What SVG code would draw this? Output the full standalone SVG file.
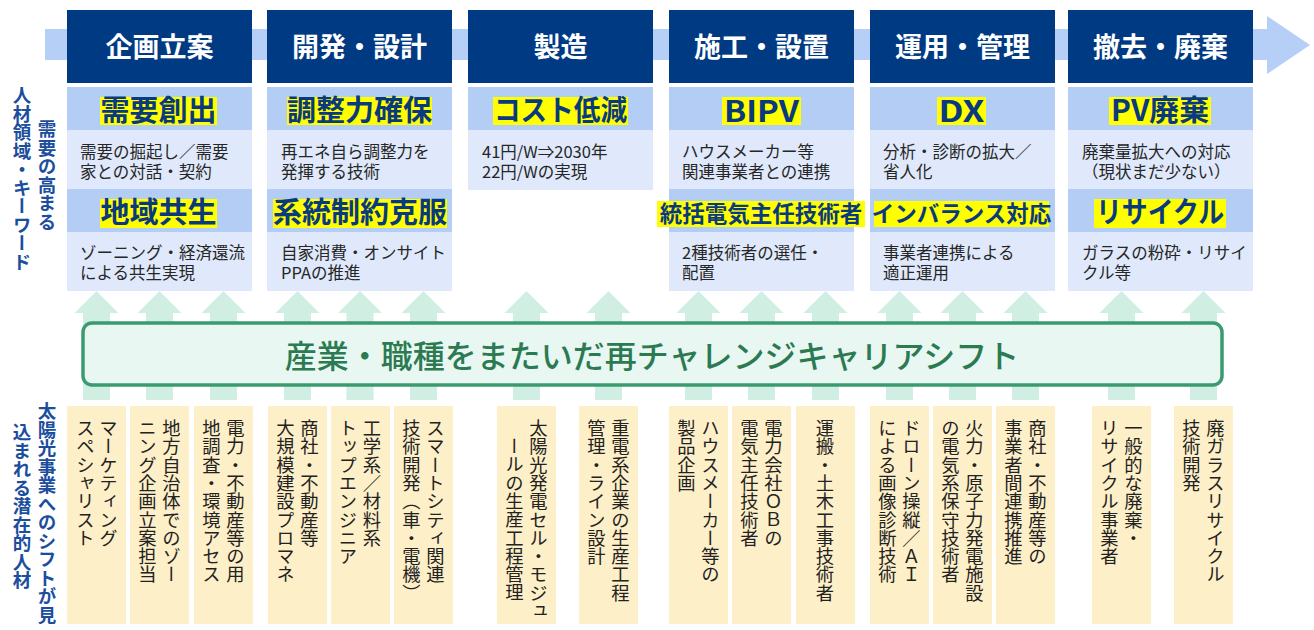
<svg xmlns="http://www.w3.org/2000/svg" xmlns:xlink="http://www.w3.org/1999/xlink" width="1314" height="630" viewBox="0 0 1314 630">
<style>
  text { font-family: "Noto Sans CJK JP", "Noto Sans", sans-serif; }
  .hdr { fill: #003a82; }
  .hdrt { fill: #ffffff; font-size: 27px; font-weight: bold; text-anchor: middle; }
  .kwbg { fill: #b4cdf5; }
  .dsbg { fill: #dfe9fb; }
  .hl { fill: #ffff00; }
  .kw { fill: #0a3a7e; font-size: 29px; font-weight: bold; text-anchor: middle; }
  .kws { fill: #0a3a7e; font-size: 22.5px; font-weight: bold; text-anchor: middle; }
  .ds { fill: #262626; font-size: 16.5px; }
  .up { fill: #d0efe2; }
  .tan { fill: #fdefc8; }
  .vt { fill: #222222; font-size: 18.3px; writing-mode: vertical-rl; }
  .side { fill: #1c4e9e; font-size: 18.5px; font-weight: bold; writing-mode: vertical-rl; }
</style>
<defs>
  <path id="uparrow" d="M-13.5,400 V313 H-22 L0,291 L22,313 H13.5 V400 Z"/>
</defs>

<g id="flow-arrow">
  <path d="M45,29 H1267 V16 L1310,45 L1267,74 V60 H45 Z" fill="#b6cff6"/>
</g>

<g id="side-labels">
  <text class="side" x="47" y="120">需要の高まる</text>
  <text class="side" x="22" y="86">人材領域・キーワード</text>
  <text class="side" x="47" y="402">太陽光事業へのシフトが見</text>
  <text class="side" x="22" y="423">込まれる潜在的人材</text>
</g>

<g id="connectors">
  <use xlink:href="#uparrow" class="up" x="96.5"/>
  <use xlink:href="#uparrow" class="up" x="159.5"/>
  <use xlink:href="#uparrow" class="up" x="223.5"/>
  <use xlink:href="#uparrow" class="up" x="297.5"/>
  <use xlink:href="#uparrow" class="up" x="360"/>
  <use xlink:href="#uparrow" class="up" x="423.5"/>
  <use xlink:href="#uparrow" class="up" x="526.5"/>
  <use xlink:href="#uparrow" class="up" x="608.5"/>
  <use xlink:href="#uparrow" class="up" x="698.5"/>
  <use xlink:href="#uparrow" class="up" x="761.5"/>
  <use xlink:href="#uparrow" class="up" x="825.5"/>
  <use xlink:href="#uparrow" class="up" x="899.5"/>
  <use xlink:href="#uparrow" class="up" x="962.5"/>
  <use xlink:href="#uparrow" class="up" x="1025.5"/>
  <use xlink:href="#uparrow" class="up" x="1121.5"/>
  <use xlink:href="#uparrow" class="up" x="1203.5"/>
</g>

<g id="col-kikaku">
  <rect class="hdr" x="67" y="10" width="185" height="73"/>
  <text class="hdrt" x="159.5" y="57">企画立案</text>
  <rect class="kwbg" x="67" y="87" width="185" height="43"/>
  <rect class="hl" x="100" y="97" width="117" height="28"/>
  <text class="kw" x="158.5" y="121">需要創出</text>
  <rect class="dsbg" x="67" y="130" width="185" height="59"/>
  <text class="ds"><tspan x="80" y="158">需要の掘起し／需要</tspan><tspan x="80" dy="20">家との対話・契約</tspan></text>
  <rect class="kwbg" x="67" y="189" width="185" height="43"/>
  <rect class="hl" x="100" y="199" width="117" height="29"/>
  <text class="kw" x="158.5" y="223">地域共生</text>
  <rect class="dsbg" x="67" y="232" width="185" height="59"/>
  <text class="ds"><tspan x="80" y="259">ゾーニング・経済還流</tspan><tspan x="80" dy="20">による共生実現</tspan></text>
</g>

<g id="col-kaihatsu">
  <rect class="hdr" x="267" y="10" width="185" height="73"/>
  <text class="hdrt" x="359.5" y="57">開発・設計</text>
  <rect class="kwbg" x="267" y="87" width="185" height="43"/>
  <rect class="hl" x="287" y="97" width="145" height="28"/>
  <text class="kw" x="359.5" y="121">調整力確保</text>
  <rect class="dsbg" x="267" y="130" width="185" height="59"/>
  <text class="ds"><tspan x="281" y="158">再エネ自ら調整力を</tspan><tspan x="281" dy="20">発揮する技術</tspan></text>
  <rect class="kwbg" x="267" y="189" width="185" height="43"/>
  <rect class="hl" x="273" y="199" width="174" height="29"/>
  <text class="kw" x="360" y="223">系統制約克服</text>
  <rect class="dsbg" x="267" y="232" width="185" height="59"/>
  <text class="ds"><tspan x="281" y="259">自家消費・オンサイト</tspan><tspan x="281" dy="20">PPAの推進</tspan></text>
</g>

<g id="col-seizo">
  <rect class="hdr" x="468" y="10" width="185" height="73"/>
  <text class="hdrt" x="560.5" y="57">製造</text>
  <rect class="kwbg" x="468" y="87" width="185" height="43"/>
  <rect class="hl" x="493" y="97" width="135" height="28"/>
  <text class="kw" x="560.5" y="121" textLength="133" lengthAdjust="spacingAndGlyphs">コスト低減</text>
  <rect class="dsbg" x="468" y="130" width="185" height="60"/>
  <text class="ds"><tspan x="482" y="158">41円/W⇒2030年</tspan><tspan x="482" dy="20">22円/Wの実現</tspan></text>
</g>

<g id="col-seko">
  <rect class="hdr" x="669" y="10" width="185" height="73"/>
  <text class="hdrt" x="761.5" y="57">施工・設置</text>
  <rect class="kwbg" x="669" y="87" width="185" height="43"/>
  <rect class="hl" x="722" y="97" width="79" height="28"/>
  <text class="kw" x="761.5" y="122" textLength="75" lengthAdjust="spacingAndGlyphs">BIPV</text>
  <rect class="dsbg" x="669" y="130" width="185" height="59"/>
  <text class="ds"><tspan x="682" y="158">ハウスメーカー等</tspan><tspan x="682" dy="20">関連事業者との連携</tspan></text>
  <rect class="kwbg" x="669" y="189" width="185" height="43"/>
  <rect class="hl" x="657" y="201" width="208" height="26"/>
  <text class="kws" x="761" y="222">統括電気主任技術者</text>
  <rect class="dsbg" x="669" y="232" width="185" height="59"/>
  <text class="ds"><tspan x="682" y="259">2種技術者の選任・</tspan><tspan x="682" dy="20">配置</tspan></text>
</g>

<g id="col-unyo">
  <rect class="hdr" x="870" y="10" width="185" height="73"/>
  <text class="hdrt" x="962.5" y="57">運用・管理</text>
  <rect class="kwbg" x="870" y="87" width="185" height="43"/>
  <rect class="hl" x="937" y="97" width="49" height="28"/>
  <text class="kw" x="961.5" y="122" textLength="46" lengthAdjust="spacingAndGlyphs">DX</text>
  <rect class="dsbg" x="870" y="130" width="185" height="59"/>
  <text class="ds"><tspan x="883" y="158">分析・診断の拡大／</tspan><tspan x="883" dy="20">省人化</tspan></text>
  <rect class="kwbg" x="870" y="189" width="185" height="43"/>
  <rect class="hl" x="874" y="201" width="175" height="26"/>
  <text class="kws" x="961.5" y="222">インバランス対応</text>
  <rect class="dsbg" x="870" y="232" width="185" height="59"/>
  <text class="ds"><tspan x="883" y="259">事業者連携による</tspan><tspan x="883" dy="20">適正運用</tspan></text>
</g>

<g id="col-tekkyo">
  <rect class="hdr" x="1068" y="10" width="185" height="73"/>
  <text class="hdrt" x="1160.5" y="57">撤去・廃棄</text>
  <rect class="kwbg" x="1068" y="87" width="185" height="43"/>
  <rect class="hl" x="1109" y="97" width="102" height="28"/>
  <text class="kw" x="1160" y="121" textLength="98" lengthAdjust="spacingAndGlyphs">PV廃棄</text>
  <rect class="dsbg" x="1068" y="130" width="185" height="59"/>
  <text class="ds"><tspan x="1082" y="158">廃棄量拡大への対応</tspan><tspan x="1082" dy="20">（現状まだ少ない）</tspan></text>
  <rect class="kwbg" x="1068" y="189" width="185" height="43"/>
  <rect class="hl" x="1094" y="199" width="132" height="29"/>
  <text class="kw" x="1160" y="223" textLength="128" lengthAdjust="spacingAndGlyphs">リサイクル</text>
  <rect class="dsbg" x="1068" y="232" width="185" height="59"/>
  <text class="ds"><tspan x="1082" y="259">ガラスの粉砕・リサイ</tspan><tspan x="1082" dy="20">クル等</tspan></text>
</g>

<g id="career-shift">
  <rect x="83" y="323" width="1139" height="62" rx="9" ry="9" fill="#e8f7f1" stroke="#3b9b70" stroke-width="3.5"/>
  <text x="652" y="368" fill="#2b7a52" font-size="32" font-weight="500" text-anchor="middle">産業・職種をまたいだ再チャレンジキャリアシフト</text>
</g>

<g id="talent-1"><rect class="tan" x="67" y="406" width="59" height="218"/>
  <text class="vt" x="108.5" y="419">マーケティング</text><text class="vt" x="85.5" y="419">スペシャリスト</text></g>
<g id="talent-2"><rect class="tan" x="130" y="406" width="59" height="218"/>
  <text class="vt" x="171.5" y="419">地方自治体でのゾー</text><text class="vt" x="147.5" y="419">ニング企画立案担当</text></g>
<g id="talent-3"><rect class="tan" x="194" y="406" width="59" height="218"/>
  <text class="vt" x="235.5" y="419">電力・不動産等の用</text><text class="vt" x="211.5" y="419">地調査・環境アセス</text></g>
<g id="talent-4"><rect class="tan" x="268" y="406" width="59" height="218"/>
  <text class="vt" x="309.5" y="419">商社・不動産等</text><text class="vt" x="285.5" y="419">大規模建設プロマネ</text></g>
<g id="talent-5"><rect class="tan" x="331" y="406" width="59" height="218"/>
  <text class="vt" x="372" y="419">工学系／材料系</text><text class="vt" x="348" y="419">トップエンジニア</text></g>
<g id="talent-6"><rect class="tan" x="394" y="406" width="59" height="218"/>
  <text class="vt" x="435.5" y="419">スマートシティ関連</text><text class="vt" x="411.5" y="419">技術開発（車・電機）</text></g>
<g id="talent-7"><rect class="tan" x="497" y="406" width="59" height="218"/>
  <text class="vt" x="538.5" y="419">太陽光発電セル・モジュ</text><text class="vt" x="514.5" y="437">ールの生産工程管理</text></g>
<g id="talent-8"><rect class="tan" x="579" y="406" width="59" height="218"/>
  <text class="vt" x="620.5" y="419">重電系企業の生産工程</text><text class="vt" x="596.5" y="419">管理・ライン設計</text></g>
<g id="talent-9"><rect class="tan" x="669" y="406" width="59" height="218"/>
  <text class="vt" x="710.5" y="419">ハウスメーカー等の</text><text class="vt" x="686.5" y="419">製品企画</text></g>
<g id="talent-10"><rect class="tan" x="732" y="406" width="59" height="218"/>
  <text class="vt" x="773.5" y="419">電力会社ＯＢの</text><text class="vt" x="749.5" y="419">電気主任技術者</text></g>
<g id="talent-11"><rect class="tan" x="796" y="406" width="59" height="218"/>
  <text class="vt" x="825" y="419">運搬・土木工事技術者</text></g>
<g id="talent-12"><rect class="tan" x="870" y="406" width="59" height="218"/>
  <text class="vt" x="911.5" y="419">ドローン操縦／ＡＩ</text><text class="vt" x="887.5" y="419">による画像診断技術</text></g>
<g id="talent-13"><rect class="tan" x="933" y="406" width="59" height="218"/>
  <text class="vt" x="974.5" y="419">火力・原子力発電施設</text><text class="vt" x="950.5" y="419">の電気系保守技術者</text></g>
<g id="talent-14"><rect class="tan" x="996" y="406" width="59" height="218"/>
  <text class="vt" x="1037.5" y="419">商社・不動産等の</text><text class="vt" x="1013.5" y="419">事業者間連携推進</text></g>
<g id="talent-15"><rect class="tan" x="1092" y="406" width="59" height="218"/>
  <text class="vt" x="1133.5" y="419">一般的な廃棄・</text><text class="vt" x="1109.5" y="419">リサイクル事業者</text></g>
<g id="talent-16"><rect class="tan" x="1174" y="406" width="59" height="218"/>
  <text class="vt" x="1215.5" y="419">廃ガラスリサイクル</text><text class="vt" x="1191.5" y="419">技術開発</text></g>
</svg>
